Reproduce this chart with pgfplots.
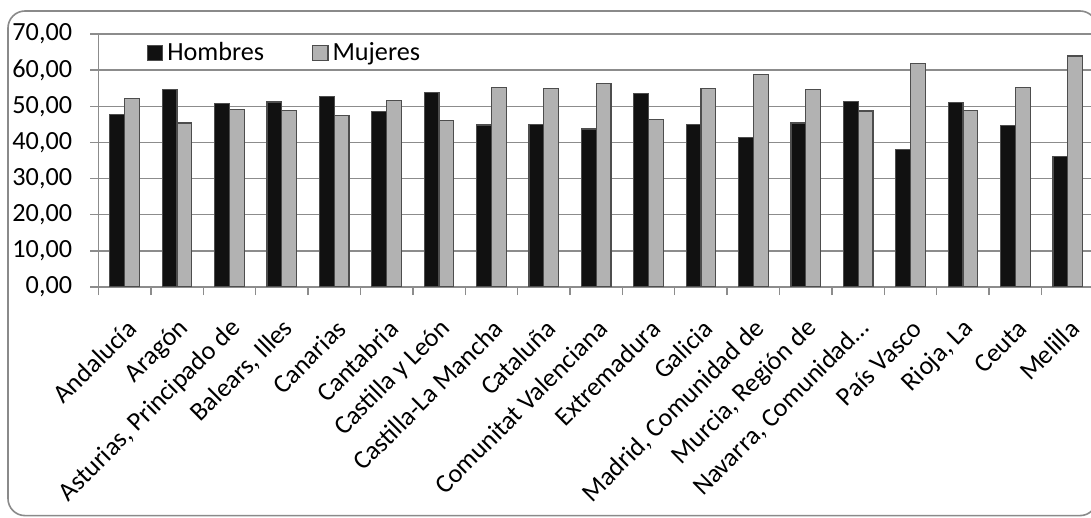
\documentclass[border=0pt]{standalone}
\usepackage{pgfplots}
\usepackage{pgfplotstable}
\pgfplotsset{compat=1.18}
\usepackage{fontspec}
\setmainfont{Carlito}

\definecolor{hombres}{HTML}{111111}
\definecolor{mujeres}{HTML}{B2B2B2}
\definecolor{barline}{HTML}{4D4D4D}
\definecolor{gridc}{HTML}{8C8C8C}
\definecolor{framec}{HTML}{8A8A8A}

% Porcentaje por sexo y comunidad autónoma
\pgfplotstableread{
idx hombres mujeres
0  47.8 52.2
1  54.6 45.4
2  50.8 49.2
3  51.2 48.8
4  52.6 47.4
5  48.5 51.5
6  53.9 46.1
7  44.8 55.2
8  45.0 55.0
9  43.7 56.3
10 53.6 46.4
11 45.0 55.0
12 41.3 58.7
13 45.4 54.6
14 51.3 48.7
15 38.1 61.9
16 51.1 48.9
17 44.7 55.3
18 36.1 63.9
}\datos

\newcommand{\lblfont}{\fontsize{13.1bp}{16bp}\selectfont}

\begin{document}
\begin{tikzpicture}
\fill[white] (0,0) rectangle (545.5bp,259bp);
\draw[framec, line width=0.8bp, rounded corners=8.5bp] (4bp,1.2bp) rectangle (548.5bp,253.5bp);
\begin{axis}[
  at={(49.25bp,115.5bp)}, anchor=south west,
  scale only axis,
  width=497.7bp, height=126.5bp,
  xmin=-0.5, xmax=18.5,
  ymin=0, ymax=70,
  ytick={0,10,...,70},
  xtick={0,...,18},
  minor xtick={-0.5,0.5,...,18.5},
  xticklabels={Andalucía, Aragón, {Asturias, Principado de}, {Balears, Illes}, Canarias, Cantabria, Castilla y León, Castilla-La Mancha, Cataluña, Comunitat Valenciana, Extremadura, Galicia, {Madrid, Comunidad de}, {Murcia, Región de}, {Navarra, Comunidad…}, País Vasco, {Rioja, La}, Ceuta, Melilla},
  axis x line*=bottom, axis y line*=left,
  axis line style={gridc, line width=0.7bp},
  tick align=outside,
  major x tick style={draw=none},
  minor x tick style={gridc, line width=0.7bp},
  minor tick length=4bp,
  major y tick style={gridc, line width=0.7bp},
  major tick length=4bp,
  ymajorgrids,
  major grid style={gridc, line width=0.7bp},
  yticklabel style={font=\lblfont, inner sep=0pt, xshift=-9bp},
  xticklabel style={font=\lblfont, rotate=45, anchor=east, inner sep=0pt, xshift=-7.8bp, yshift=-12.9bp},
  /pgf/number format/.cd, fixed, fixed zerofill, precision=2, use comma, assume math mode=true,
  /pgfplots/.cd,
  ybar=0pt, bar width=7.4bp,
  legend columns=2,
  legend style={at={(rel axis cs:0,1)}, anchor=north west, xshift=24bp, yshift=-2bp,
    draw=none, fill=none, font=\lblfont, inner sep=0pt,
    /tikz/every even column/.append style={column sep=22bp}},
  legend image code/.code={\draw[#1, line width=0.6bp] (0bp,-3.8bp) rectangle (7.6bp,3.8bp);},
]
\addplot[fill=hombres, draw=barline, line width=0.6bp] table[x=idx, y=hombres] {\datos};
\addplot[fill=mujeres, draw=barline, line width=0.6bp] table[x=idx, y=mujeres] {\datos};
\legend{Hombres, Mujeres}
\end{axis}
\pgfresetboundingbox
\useasboundingbox (0,0) rectangle (545.5bp,259bp);
\end{tikzpicture}
\end{document}
